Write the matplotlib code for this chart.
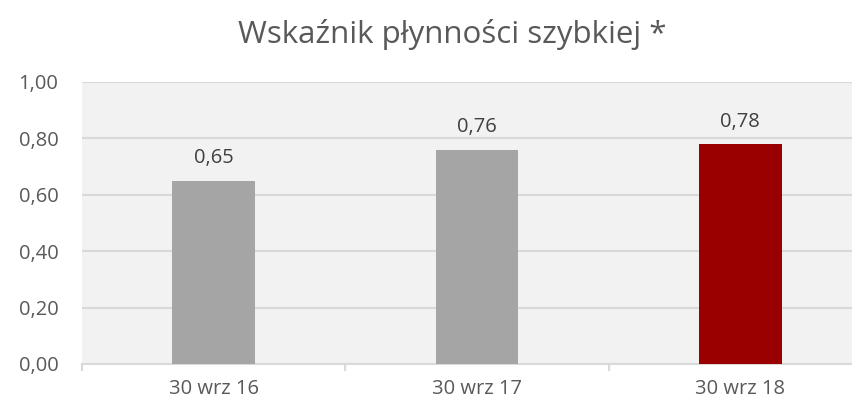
import matplotlib
matplotlib.use("Agg")
import matplotlib.pyplot as plt
import numpy as np

categories = ["30 wrz 16", "30 wrz 17", "30 wrz 18"]
values = [0.65, 0.76, 0.78]
colors = ["#A5A5A5", "#A5A5A5", "#990000"]
yticks = [0.0, 0.2, 0.4, 0.6, 0.8, 1.0]

TEXT = "#595959"
LABEL = "#404040"
GRID = "#D9D9D9"

plt.rcParams["font.family"] = ["Open Sans", "DejaVu Sans"]

fig = plt.figure(figsize=(8.52, 4.04), dpi=100)
ax = fig.add_axes([82 / 852, 1 - 364 / 404, 790 / 852, 282 / 404])
ax.set_facecolor("#F2F2F2")

x = np.arange(len(categories))
bars = ax.bar(x, values, 0.315, color=colors, zorder=3)
for b, v in zip(bars, values):
    ax.annotate(f"{v:.2f}".replace(".", ","), (b.get_x() + b.get_width() / 2, v),
                xytext=(0, 9), textcoords="offset points", ha="center",
                va="bottom", fontsize=14.5, color=LABEL)

ax.set_xlim(-0.5, len(categories) - 0.5)
ax.set_ylim(0, 1.0)
ax.set_yticks(yticks)
ax.set_yticklabels([f"{t:.2f}".replace(".", ",") for t in yticks])
ax.set_xticks(x)
ax.set_xticklabels(categories)
ax.set_xticks(np.arange(len(categories) + 1) - 0.5, minor=True)
ax.tick_params(axis="x", which="major", length=0, pad=11, labelsize=14.5,
               labelcolor=TEXT)
ax.tick_params(axis="x", which="minor", length=5, width=1.5, color=GRID)
ax.tick_params(axis="y", length=0, pad=17, labelsize=14.5, labelcolor=TEXT)

ax.yaxis.grid(True, color=GRID, linewidth=1.5, zorder=0)
ax.set_axisbelow(True)
for side in ("top", "right", "left"):
    ax.spines[side].set_visible(False)
ax.spines["bottom"].set_color(GRID)
ax.spines["bottom"].set_linewidth(1.5)

fig.text(452 / 852, 1 - 34 / 404, "Wskaźnik płynności szybkiej *", ha="center",
         va="center", fontsize=22.5, color=TEXT)

fig.savefig("out.png", dpi=100, facecolor="white")
